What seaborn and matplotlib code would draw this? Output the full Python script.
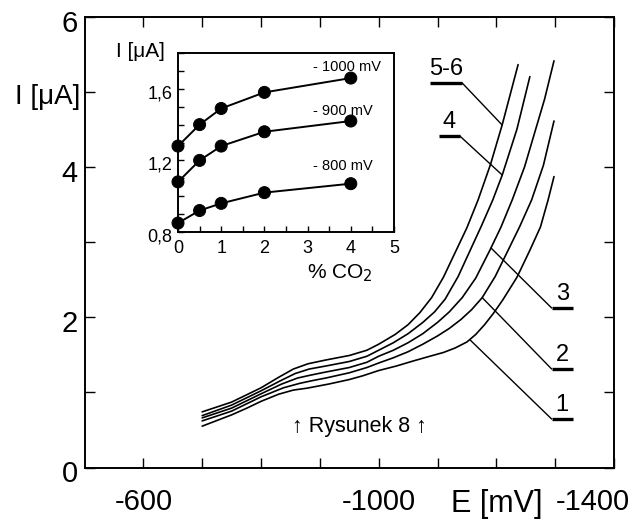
import numpy as np
import pandas as pd
import matplotlib
matplotlib.use("Agg")
import matplotlib.pyplot as plt
import seaborn as sns
from matplotlib.transforms import ScaledTranslation

# ---------------- data ----------------
# main plot: I [uA] vs E [mV]
c56_E = [-700, -750, -800, -830, -855, -880, -910, -950, -980, -1000, -1028, -1050,
         -1070, -1090, -1110, -1130, -1150, -1169, -1190, -1210, -1237]
c56_I = [0.74, 0.87, 1.06, 1.20, 1.31, 1.38, 1.43, 1.49, 1.56, 1.64, 1.77, 1.90,
         2.06, 2.26, 2.53, 2.86, 3.19, 3.56, 4.03, 4.56, 5.36]

c4_E = [-700, -750, -800, -832, -858, -882, -910, -950, -980, -1000, -1025, -1050,
        -1075, -1095, -1113, -1135, -1155, -1175, -1194, -1210, -1235, -1257]
c4_I = [0.69, 0.83, 1.02, 1.15, 1.25, 1.31, 1.35, 1.41, 1.48, 1.56, 1.66, 1.78,
        1.93, 2.07, 2.24, 2.54, 2.88, 3.22, 3.56, 3.89, 4.50, 5.20]

c3_E = [-700, -750, -800, -835, -862, -885, -910, -950, -980, -1000, -1025, -1050,
        -1075, -1100, -1120, -1142, -1165, -1189, -1208, -1227, -1248, -1265, -1282, -1298]
c3_I = [0.66, 0.79, 0.98, 1.11, 1.19, 1.23, 1.27, 1.33, 1.40, 1.48, 1.56, 1.66,
        1.78, 1.93, 2.07, 2.26, 2.52, 2.89, 3.20, 3.56, 4.00, 4.45, 4.90, 5.41]

c2_E = [-700, -750, -800, -838, -866, -890, -910, -950, -980, -1000, -1025, -1050,
        -1075, -1100, -1120, -1140, -1158, -1176, -1198, -1220, -1240, -1260, -1280, -1298]
c2_I = [0.62, 0.75, 0.94, 1.06, 1.12, 1.16, 1.19, 1.26, 1.33, 1.39, 1.46, 1.54,
        1.64, 1.75, 1.85, 1.97, 2.10, 2.26, 2.54, 2.89, 3.21, 3.56, 4.02, 4.61]

c1_E = [-700, -750, -776, -800, -830, -855, -878, -915, -950, -973, -1000, -1030,
        -1060, -1087, -1110, -1130, -1150, -1165, -1180, -1195, -1211, -1235, -1257,
        -1275, -1288, -1298]
c1_I = [0.55, 0.70, 0.79, 0.88, 0.975, 1.03, 1.055, 1.11, 1.17, 1.22, 1.29, 1.35,
        1.42, 1.48, 1.53, 1.59, 1.67, 1.77, 1.90, 2.05, 2.23, 2.53, 2.89,
        3.20, 3.56, 3.87]

curve_labels = ["5-6", "4", "3", "2", "1"]

# inset: I [uA] vs % CO2
co2 = [0, 0.5, 1, 2, 4]
i_1000 = [1.28, 1.40, 1.49, 1.58, 1.66]
i_900 = [1.08, 1.20, 1.28, 1.36, 1.42]
i_800 = [0.85, 0.92, 0.96, 1.02, 1.07]
inset_series = ["- 1000 mV", "- 900 mV", "- 800 mV"]

main_xticks = [-600, -700, -800, -900, -1000, -1100, -1200, -1300, -1400]
main_xticklabels = ["-600", "", "", "", "-1000", "", "", "", "-1400"]
main_yticks = [0, 1, 2, 3, 4, 5, 6]
main_yticklabels = ["0", "", "2", "", "4", "", "6"]
inset_xticks = [0, 0.5, 1, 1.5, 2, 2.5, 3, 3.5, 4, 4.5, 5]
inset_xticklabels = ["0", "", "1", "", "2", "", "3", "", "4", "", "5"]
inset_yticks = [0.8, 0.9, 1.0, 1.1, 1.2, 1.3, 1.4, 1.5, 1.6, 1.7, 1.8]
inset_yticklabels = ["0,8", "", "", "", "1,2", "", "", "", "1,6", "", ""]

# ---------------- style ----------------
sns.set_theme(style="ticks")
plt.rcParams["font.family"] = ["Liberation Sans", "DejaVu Sans"]
plt.rcParams["axes.linewidth"] = 1.4
plt.rcParams["axes.edgecolor"] = "black"
plt.rcParams["text.color"] = "black"
plt.rcParams["xtick.color"] = "black"
plt.rcParams["ytick.color"] = "black"

fig = plt.figure(figsize=(6.39, 5.27), dpi=100)
fig.patch.set_facecolor("white")

ax = fig.add_axes([84.5 / 639, 59.5 / 527, 529.5 / 639, 451 / 527])
ax.set_facecolor("white")

main_df = pd.concat([
    pd.DataFrame({"E": e, "I": i, "curve": lab})
    for e, i, lab in zip([c56_E, c4_E, c3_E, c2_E, c1_E],
                         [c56_I, c4_I, c3_I, c2_I, c1_I], curve_labels)
])
sns.lineplot(data=main_df, x="E", y="I", hue="curve", units="curve", estimator=None,
             sort=False, palette=["black"] * 5, linewidth=1.2, legend=False, ax=ax)

ax.set_xlim(-500, -1400)
ax.set_ylim(0, 6)
ax.set_xticks(main_xticks)
ax.set_xticklabels(main_xticklabels)
ax.set_yticks(main_yticks)
ax.set_yticklabels(main_yticklabels)
ax.tick_params(axis="both", direction="in", length=7, width=1.0, top=True, right=True,
               labelsize=21)
ax.tick_params(axis="x", pad=15)
ax.tick_params(axis="y", pad=5)
for lbl in ax.get_xticklabels():
    if lbl.get_text() == "-1400":
        lbl.set_transform(lbl.get_transform() + ScaledTranslation(-21 / 100, 0, fig.dpi_scale_trans))
for lbl in ax.get_yticklabels():
    lbl.set_transform(lbl.get_transform() + ScaledTranslation(0, -4 / 100, fig.dpi_scale_trans))
ax.set_xlabel("")
ax.set_ylabel("")

ax.text(-1201, -0.49, "E [mV]", fontsize=22, ha="center", va="center")
ax.text(-437, 4.93, "I [\u03bcA]", fontsize=20, ha="center", va="center")
ax.text(-968, 0.54, "\u2191 Rysunek 8 \u2191", fontsize=15.5, ha="center", va="center")

# curve labels with leaders
leaders = {
    "5-6": dict(ul=(-1087, -1142, 5.115), tip=(-1210, 4.556), start="right"),
    "4": dict(ul=(-1103, -1138, 4.41), tip=(-1210, 3.891), start="right"),
    "3": dict(ul=(-1294, -1330, 2.122), tip=(-1191, 2.92), start="left"),
    "2": dict(ul=(-1294, -1330, 1.31), tip=(-1176, 2.26), start="left"),
    "1": dict(ul=(-1294, -1330, 0.645), tip=(-1155, 1.70), start="left"),
}
for lab, d in leaders.items():
    x0, x1, yu = d["ul"]
    ax.plot([x0, x1], [yu, yu], color="black", lw=2.4, solid_capstyle="butt")
    xs = x1 if d["start"] == "right" else x0
    ax.plot([xs, d["tip"][0]], [yu, d["tip"][1]], color="black", lw=1.0)
    ax.text((x0 + x1) / 2, yu + 0.04, lab, fontsize=17, ha="center", va="bottom")

# ---------------- inset ----------------
axin = fig.add_axes([178 / 639, (527 - 232) / 527, 216 / 639, 179 / 527])
axin.set_facecolor("white")
inset_df = pd.concat([
    pd.DataFrame({"CO2": co2, "I": v, "E": name})
    for v, name in zip([i_1000, i_900, i_800], inset_series)
])
sns.lineplot(data=inset_df, x="CO2", y="I", hue="E", palette=["black"] * 3,
             linewidth=1.4, legend=False, ax=axin)
sns.scatterplot(data=inset_df, x="CO2", y="I", hue="E", palette=["black"] * 3,
                s=75, edgecolor="black", legend=False, ax=axin, clip_on=False, zorder=5)
axin.set_xlim(0, 5)
axin.set_ylim(0.8, 1.8)
axin.set_xticks(inset_xticks)
axin.set_xticklabels(inset_xticklabels)
axin.set_yticks(inset_yticks)
axin.set_yticklabels(inset_yticklabels)
axin.tick_params(axis="both", direction="in", length=4, width=1.0, labelsize=13)
axin.tick_params(axis="x", pad=6)
axin.tick_params(axis="y", pad=4)
for lbl in axin.get_yticklabels():
    lbl.set_transform(lbl.get_transform() + ScaledTranslation(0, -3 / 100, fig.dpi_scale_trans))
axin.set_xlabel("")
axin.set_ylabel("")
for sp in axin.spines.values():
    sp.set_linewidth(1.4)

axin.text(0.75, -0.23, "% CO$_2$", transform=axin.transAxes, fontsize=15,
          ha="center", va="center")
axin.text(-0.285, 1.01, "I [\u03bcA]", transform=axin.transAxes, fontsize=15,
          ha="left", va="center")
for name, xy in zip(inset_series, [(3.12, 1.72), (3.12, 1.478), (3.12, 1.17)]):
    axin.text(xy[0], xy[1], name, fontsize=10.5, ha="left", va="center")

fig.savefig("out.png", dpi=100, facecolor="white")
